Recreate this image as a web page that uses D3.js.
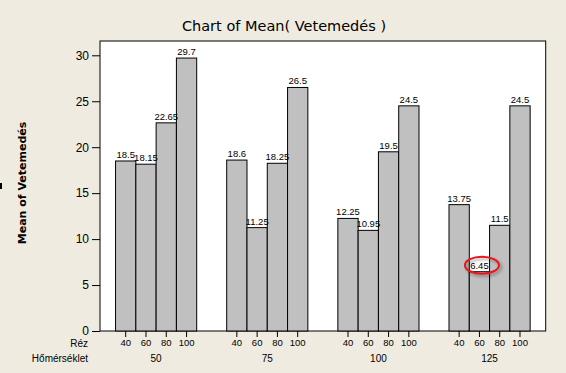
<!DOCTYPE html>
<html><head><meta charset="utf-8">
<script src="https://cdn.jsdelivr.net/npm/d3@7"></script>
<style>
html,body{margin:0;padding:0;background:#efebe1;}
svg{display:block;font-family:"Liberation Sans","DejaVu Sans",sans-serif;}
text{fill:#000;}
</style></head>
<body>
<svg id="c" width="566" height="373"></svg>
<script>
const temps = ["50", "75", "100", "125"];
const rez = ["40", "60", "80", "100"];
const v50 = [18.5, 18.15, 22.65, 29.7];
const v75 = [18.6, 11.25, 18.25, 26.5];
const v100 = [12.25, 10.95, 19.5, 24.5];
const v125 = [13.75, 6.45, 11.5, 24.5];
const yTicks = [0, 5, 10, 15, 20, 25, 30];
const labels = ["18.5", "18.15", "22.65", "29.7", "18.6", "11.25", "18.25", "26.5", "12.25", "10.95", "19.5", "24.5", "13.75", "6.45", "11.5", "24.5"];
const highlight = {temp: "125", rez: "60"};

const series = [v50, v75, v100, v125];
const data = [];
temps.forEach((t, i) => rez.forEach((r, j) => data.push({temp: t, rez: r, value: series[i][j], label: labels[i * 4 + j]})));

const svg = d3.select("#c");
const L = 100, R = 545.7, T = 41, B = 331;

const x0 = d3.scaleBand().domain(temps).range([L, R]).paddingInner(0.27).paddingOuter(0.14);
const x1 = d3.scaleBand().domain(rez).range([0, x0.bandwidth()]);
const y = d3.scaleLinear().domain([0, 30]).range([B, 55.3]);

// frame
svg.append("rect").attr("x", L).attr("y", T).attr("width", R - L).attr("height", B - T)
  .attr("fill", "#fff").attr("stroke", "#000").attr("stroke-width", 1);

// bars
svg.append("g").selectAll("rect").data(data).join("rect")
  .attr("x", d => x0(d.temp) + x1(d.rez))
  .attr("y", d => y(d.value))
  .attr("width", x1.bandwidth())
  .attr("height", d => B - y(d.value))
  .attr("fill", "#c0c0c0").attr("stroke", "#000").attr("stroke-width", 1);

// value labels
svg.append("g").selectAll("text").data(data).join("text")
  .attr("x", d => x0(d.temp) + x1(d.rez) + x1.bandwidth() / 2)
  .attr("y", d => y(d.value) - 3)
  .attr("text-anchor", "middle").style("font-size", "9.5px")
  .text(d => d.label);

// highlight ellipse
const hd = data.find(d => d.temp === highlight.temp && d.rez === highlight.rez);
const hx = x0(hd.temp) + x1(hd.rez) + x1.bandwidth() / 2 + 2.5;
const hy = y(hd.value) - 6.5;
const defs = svg.append("defs");
const f = defs.append("filter").attr("id", "sh").attr("x", "-50%").attr("y", "-50%").attr("width", "200%").attr("height", "200%");
f.append("feDropShadow").attr("dx", 2).attr("dy", 2).attr("stdDeviation", 1.5).attr("flood-color", "#000").attr("flood-opacity", 0.35);
svg.append("ellipse").attr("cx", hx).attr("cy", hy).attr("rx", 17).attr("ry", 8.5)
  .attr("fill", "none").attr("stroke", "#e8141c").attr("stroke-width", 2).attr("filter", "url(#sh)");

// y axis
const yAxis = d3.axisLeft(y).tickValues(yTicks).tickSize(8).tickPadding(3).tickFormat(d3.format("d"));
const ga = svg.append("g").attr("transform", `translate(${L},0)`).call(yAxis);
ga.select(".domain").remove();
ga.selectAll("text").style("font-size", "12px").style("font-family", "Liberation Sans, sans-serif");

// x axis ticks (inner)
const xg = svg.append("g");
temps.forEach(t => {
  const g = xg.append("g").attr("transform", `translate(${x0(t)},${B})`);
  const ax = d3.axisBottom(x1).tickSize(6).tickPadding(4);
  g.call(ax);
  g.select(".domain").remove();
  g.selectAll("text").style("font-size", "9.5px").style("font-family", "Liberation Sans, sans-serif").attr("dy", "0.55em");
});
// group labels
xg.selectAll("text.grp").data(temps).join("text").attr("class", "grp")
  .attr("x", d => x0(d) + x0.bandwidth() / 2).attr("y", 362)
  .attr("text-anchor", "middle").style("font-size", "10px").text(d => d);

// row labels
svg.append("text").attr("x", 88).attr("y", 347).attr("text-anchor", "end").style("font-size", "10px").text("Réz");
svg.append("text").attr("x", 88).attr("y", 362).attr("text-anchor", "end").style("font-size", "10px").text("Hőmérséklet");

// title
svg.append("text").attr("x", 284).attr("y", 31).attr("text-anchor", "middle")
  .style("font-size", "14.5px").style("font-family", "DejaVu Sans, sans-serif").text("Chart of Mean( Vetemedés )");

// y label
svg.append("text").attr("transform", "translate(26,183) rotate(-90)").attr("text-anchor", "middle")
  .style("font-size", "11px").style("font-weight", "bold").style("font-family", "DejaVu Sans, sans-serif").text("Mean of Vetemedés");

// small artifact at left edge
svg.append("rect").attr("x", 0).attr("y", 183).attr("width", 2).attr("height", 6).attr("fill", "#000");
</script>
</body></html>
